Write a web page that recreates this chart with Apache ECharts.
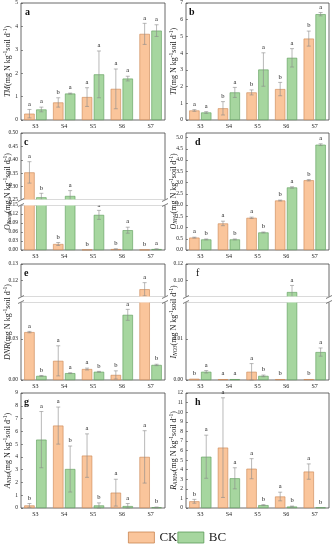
<!DOCTYPE html>
<html><head><meta charset="utf-8">
<script src="https://cdn.jsdelivr.net/npm/echarts@6/dist/echarts.min.js"></script>
<style>html,body{margin:0;padding:0;background:#fff}#c{width:333px;height:550px}</style>
</head><body><div id="c"></div>
<script>
// ---------------- DATA ----------------
const categories = ['S3', 'S4', 'S5', 'S6', 'S7'];
const groupNames = ['CK', 'BC'];

// a: TM
const tmCK = [0.27, 0.75, 0.98, 1.33, 3.68];
const tmCKErr = [0.18, 0.2, 0.4, 0.85, 0.45];
const tmCKSig = ['a', 'b', 'a', 'a', 'a'];
const tmBC = [0.45, 1.13, 1.95, 1.77, 3.82];
const tmBCErr = [0.1, 0.02, 1.0, 0.1, 0.25];
const tmBCSig = ['a', 'a', 'a', 'a', 'a'];
const tmTicks = [0, 5, 1];

// b: TI
const tiCK = [0.57, 0.7, 1.65, 1.85, 4.87];
const tiCKErr = [0.05, 0.4, 0.15, 0.4, 0.45];
const tiCKSig = ['a', 'b', 'b', 'b', 'b'];
const tiBC = [0.45, 1.65, 3.02, 3.72, 6.33];
const tiBCErr = [0.05, 0.3, 1.0, 0.55, 0.1];
const tiBCSig = ['a', 'a', 'a', 'a', 'a'];
const tiTicks = [0, 7, 1];

// c: O_Norg (broken axis)
const onorgCK = [0.353, 0.02, 0.001, 0.003, 0.001];
const onorgCKErr = [0.04, 0.005, 0, 0.001, 0];
const onorgCKSig = ['a', 'b', 'b', 'b', 'b'];
const onorgBC = [0.26, 0.265, 0.117, 0.066, 0.003];
const onorgBCErr = [0.015, 0.02, 0.015, 0.01, 0.001];
const onorgBCSig = ['b', 'a', 'a', 'a', 'a'];
const onorgUpperTicks = [0.25, 0.50, 0.05];
const onorgLowerTicks = [0, 0.15, 0.03];

// d: O_NH4
const onh4CK = [0.55, 1.18, 1.43, 2.2, 3.1];
const onh4CKErr = [0.02, 0.1, 0.03, 0.02, 0.03];
const onh4CKSig = ['a', 'a', 'a', 'b', 'b'];
const onh4BC = [0.47, 0.47, 0.78, 2.78, 4.68];
const onh4BCErr = [0.02, 0.02, 0.02, 0.03, 0.04];
const onh4BCSig = ['b', 'b', 'b', 'a', 'a'];
const onh4Ticks = [0, 5.2, 0.5];

// e: DNR (broken axis)
const dnrCK = [0.035, 0.014, 0.008, 0.0037, 0.1147];
const dnrCKErr = [0.0005, 0.011, 0.0007, 0.003, 0.004];
const dnrCKSig = ['a', 'a', 'a', 'b', 'a'];
const dnrBC = [0.003, 0.005, 0.006, 0.0476, 0.011];
const dnrBCErr = [0.0003, 0.0003, 0.0003, 0.004, 0.0005];
const dnrBCSig = ['b', 'a', 'b', 'a', 'b'];
const dnrUpperTicks = [0.11, 0.13, 0.01];
const dnrLowerTicks = [0, 0.057, 0.03];

// f: I_NO3 (broken axis)
const ino3CK = [0.0003, 0.0002, 0.002, 0.0002, 0.0002];
const ino3CKErr = [0, 0, 0.002, 0, 0];
const ino3CKSig = ['b', 'a', 'a', 'b', 'b'];
const ino3BC = [0.002, 0.0002, 0.001, 0.086, 0.0068];
const ino3BCErr = [0.0003, 0, 0.0002, 0.008, 0.001];
const ino3BCSig = ['a', 'a', 'b', 'a', 'a'];
const ino3UpperTicks = [0.08, 0.12, 0.02];
const ino3LowerTicks = [0, 0.019, 0.01];

// g: A_NH4
const anh4CK = [0.2, 6.45, 4.1, 1.2, 4.0];
const anh4CKErr = [0.15, 1.45, 1.7, 1.05, 2.05];
const anh4CKSig = ['b', 'a', 'a', 'a', 'a'];
const anh4BC = [5.35, 3.05, 0.2, 0.15, 0.05];
const anh4BCErr = [2.2, 1.8, 0.2, 0.2, 0.03];
const anh4BCSig = ['a', 'b', 'b', 'a', 'b'];
const anh4Ticks = [0, 9, 1];

// h: R_ANH4
const ranh4CK = [0.7, 6.3, 4.1, 1.2, 3.8];
const ranh4CKErr = [0.2, 5.2, 1.05, 0.45, 0.8];
const ranh4CKSig = ['b', 'a', 'a', 'a', 'a'];
const ranh4BC = [5.35, 3.1, 0.3, 0.15, 0.05];
const ranh4BCErr = [2.25, 1.1, 0.05, 0.05, 0.02];
const ranh4BCSig = ['a', 'a', 'b', 'b', 'b'];
const ranh4Ticks = [0, 12, 1];

const unitText = '(mg N kg{s|-1}soil d{s|-1})';

// ---------------- STYLE / LAYOUT ----------------
const FF = 'Liberation Serif, Times New Roman, serif';
const COLORS = [{ fill: '#FAC59B', border: '#C98550' }, { fill: '#A6D69F', border: '#5A9A58' }];
const colLeft = [21, 186], colWidth = [144, 143];
const BAR_W = 0.36, BAR_GAP = 0.15;

const panels = [
  { tag: 'a', col: 0, title: '{i|TM}' + unitText, ck: tmCK, ckErr: tmCKErr, ckSig: tmCKSig, bc: tmBC, bcErr: tmBCErr, bcSig: tmBCSig,
    segs: [{ t: tmTicks, top: 3, h: 117, dec: 0 }], tagPos: [25, 7] },
  { tag: 'b', col: 1, title: '{i|TI}' + unitText, ck: tiCK, ckErr: tiCKErr, ckSig: tiCKSig, bc: tiBC, bcErr: tiBCErr, bcSig: tiBCSig,
    segs: [{ t: tiTicks, top: 3, h: 117, dec: 0 }], tagPos: [189, 7] },
  { tag: 'c', col: 0, title: '{i|O}{b|Norg}' + unitText, ck: onorgCK, ckErr: onorgCKErr, ckSig: onorgCKSig, bc: onorgBC, bcErr: onorgBCErr, bcSig: onorgBCSig,
    segs: [{ t: onorgUpperTicks, top: 133, h: 67, dec: 2 }, { t: onorgLowerTicks, top: 205, h: 45, dec: 2 }], tagPos: [24, 137] },
  { tag: 'd', col: 1, title: '{i|O}{b|NH4}' + unitText, ck: onh4CK, ckErr: onh4CKErr, ckSig: onh4CKSig, bc: onh4BC, bcErr: onh4BCErr, bcSig: onh4BCSig,
    segs: [{ t: onh4Ticks, top: 133, h: 117, dec: 1, hideMax: true }], tagPos: [195, 137] },
  { tag: 'e', col: 0, title: '{i|DNR}' + unitText, ck: dnrCK, ckErr: dnrCKErr, ckSig: dnrCKSig, bc: dnrBC, bcErr: dnrBCErr, bcSig: dnrBCSig,
    segs: [{ t: dnrUpperTicks, top: 264, h: 33, dec: 2, hideMin: true }, { t: dnrLowerTicks, top: 302, h: 78, dec: 2, hideMax: true }], tagPos: [24, 268] },
  { tag: 'f', col: 1, title: '{i|I}{b|NO3}' + unitText, ck: ino3CK, ckErr: ino3CKErr, ckSig: ino3CKSig, bc: ino3BC, bcErr: ino3BCErr, bcSig: ino3BCSig,
    segs: [{ t: ino3UpperTicks, top: 264, h: 33, dec: 2, hideMin: true }, { t: ino3LowerTicks, top: 302, h: 78, dec: 2, hideMax: true }], tagPos: [196, 268], tagNormal: true },
  { tag: 'g', col: 0, title: '{i|A}{b|NH4}' + unitText, ck: anh4CK, ckErr: anh4CKErr, ckSig: anh4CKSig, bc: anh4BC, bcErr: anh4BCErr, bcSig: anh4BCSig,
    segs: [{ t: anh4Ticks, top: 393, h: 115, dec: 0 }], tagPos: [24, 397] },
  { tag: 'h', col: 1, title: '{i|R}{b|ANH4}' + unitText, ck: ranh4CK, ckErr: ranh4CKErr, ckSig: ranh4CKSig, bc: ranh4BC, bcErr: ranh4BCErr, bcSig: ranh4BCSig,
    segs: [{ t: ranh4Ticks, top: 393, h: 115, dec: 0 }], tagPos: [195, 397] }
];

const grids = [], xAxes = [], yAxes = [], series = [], graphics = [];

function errRender(items, segMin, segMax) {
  return function (params, api) {
    const it = items[params.dataIndex];
    const c = api.coord([it.cat, it.val]);
    const band = api.size([1, 0])[0];
    const bw = band * BAR_W, gap = bw * BAR_GAP;
    const x = c[0] + (it.which === 0 ? -1 : 1) * (bw + gap) / 2;
    const hi = Math.min(it.val + it.err, segMax);
    const lo = Math.max(it.val - it.err, segMin);
    const yTop = api.coord([it.cat, hi])[1];
    const yBot = api.coord([it.cat, lo])[1];
    const children = [];
    const ls = { stroke: '#8a8a8a', lineWidth: 0.6 };
    if (it.err > 0 && Math.abs(yBot - yTop) > 0.5) {
      children.push({ type: 'line', shape: { x1: x, y1: yTop, x2: x, y2: yBot }, style: ls });
      if (hi < segMax) children.push({ type: 'line', shape: { x1: x - 2, y1: yTop, x2: x + 2, y2: yTop }, style: ls });
      children.push({ type: 'line', shape: { x1: x - 2, y1: yBot, x2: x + 2, y2: yBot }, style: ls });
    }
    const yLab = Math.min(yTop, api.coord([it.cat, Math.min(it.val, segMax)])[1]) - 2;
    children.push({ type: 'text', style: { text: it.sig, x: x, y: yLab, align: 'center', verticalAlign: 'bottom', textAlign: 'center', textVerticalAlign: 'bottom', fontSize: 6.5, fontFamily: FF, fill: '#222' } });
    return { type: 'group', children: children };
  };
}

panels.forEach(p => {
  const L = colLeft[p.col], W = colWidth[p.col];
  p.segs.forEach((s, si) => {
    const gi = grids.length;
    const isBottom = si === p.segs.length - 1;
    const [mn, mx, iv] = s.t;
    grids.push({ left: L, top: s.top, width: W, height: s.h, show: true, borderColor: '#444', borderWidth: 0.8 });
    xAxes.push({ type: 'category', gridIndex: gi, data: categories, axisLine: { show: false }, axisTick: { show: false }, splitLine: { show: false },
      axisLabel: { show: isBottom, fontSize: 6, fontFamily: FF, color: '#222', margin: 3 } });
    yAxes.push({ type: 'value', gridIndex: gi, min: mn, max: mx, interval: iv, axisLine: { show: false }, splitLine: { show: false },
      axisTick: { show: true, inside: true, length: 2, lineStyle: { color: '#444', width: 0.6 } },
      axisLabel: { fontSize: 5.5, fontFamily: FF, color: '#222', margin: 3, showMinLabel: !s.hideMin, showMaxLabel: !s.hideMax,
        formatter: v => Number(v).toFixed(s.dec) } });
    [p.ck, p.bc].forEach((vals, k) => {
      series.push({ type: 'bar', name: groupNames[k], xAxisIndex: gi, yAxisIndex: gi, data: vals, barWidth: (BAR_W * 100) + '%', barGap: (BAR_GAP * 100) + '%',
        itemStyle: { color: COLORS[k].fill, borderColor: COLORS[k].border, borderWidth: 0.6 }, clip: true, silent: true, animation: false });
    });
    // error bars + letters for bars whose top lies in this segment
    const items = [];
    [[p.ck, p.ckErr, p.ckSig], [p.bc, p.bcErr, p.bcSig]].forEach((arr, k) => {
      arr[0].forEach((v, i) => {
        const inSeg = p.segs.length === 1 || (si === 0 ? v >= mn : v <= mx);
        if (inSeg) items.push({ cat: i, val: v, err: arr[1][i], sig: arr[2][i], which: k });
      });
    });
    series.push({ type: 'custom', xAxisIndex: gi, yAxisIndex: gi, data: items.map(it => [it.cat, it.val]), encode: { x: 0, y: 1 },
      renderItem: errRender(items, mn, mx), clip: false, silent: true, animation: false, z: 5 });
  });
  // break markers
  if (p.segs.length === 2) {
    const yU = p.segs[0].top + p.segs[0].h, yL = p.segs[1].top;
    graphics.push({ type: 'rect', shape: { x: L - 2, y: yU - 0.4, width: W + 4, height: yL - yU + 0.8 }, style: { fill: '#fff' }, z: 100 });
    [L, L + W].forEach(x0 => {
      [yU, yL].forEach(yy => {
        graphics.push({ type: 'line', shape: { x1: x0 - 3, y1: yy + 1.5, x2: x0 + 3, y2: yy - 1.5 }, style: { stroke: '#444', lineWidth: 0.7 }, z: 101 });
      });
    });
  }
  // y axis title
  const top = p.segs[0].top, bot = p.segs[p.segs.length - 1].top + p.segs[p.segs.length - 1].h;
  graphics.push({ type: 'text', x: p.col === 0 ? 8 : 174, y: (top + bot) / 2, rotation: Math.PI / 2, z: 100,
    style: { text: p.title, align: 'center', verticalAlign: 'middle', fontSize: 8, fontFamily: FF, fill: '#222', lineHeight: 10,
      rich: { i: { fontStyle: 'italic', fontSize: 8, fontFamily: FF }, b: { fontStyle: 'italic', fontSize: 5.5, fontFamily: FF, verticalAlign: 'bottom' },
        s: { fontSize: 5.5, fontFamily: FF, verticalAlign: 'top' } } } });
  // panel tag
  graphics.push({ type: 'text', x: p.tagPos[0], y: p.tagPos[1], z: 100,
    style: { text: p.tag, fontSize: 10, fontWeight: p.tagNormal ? 'normal' : 'bold', fontFamily: FF, fill: '#111', align: 'left', verticalAlign: 'top' } });
});

const chart = echarts.init(document.getElementById('c'), null, { renderer: 'canvas' });
chart.setOption({
  animation: false,
  backgroundColor: '#fff',
  grid: grids, xAxis: xAxes, yAxis: yAxes, series: series,
  graphic: graphics,
  legend: { data: groupNames, left: 128, top: 531, itemWidth: 26, itemHeight: 11, itemGap: 0, icon: 'rect', padding: 0,
    textStyle: { fontSize: 13, fontFamily: FF, color: '#222' }, itemStyle: { borderWidth: 0.8 } }
});
</script></body></html>
